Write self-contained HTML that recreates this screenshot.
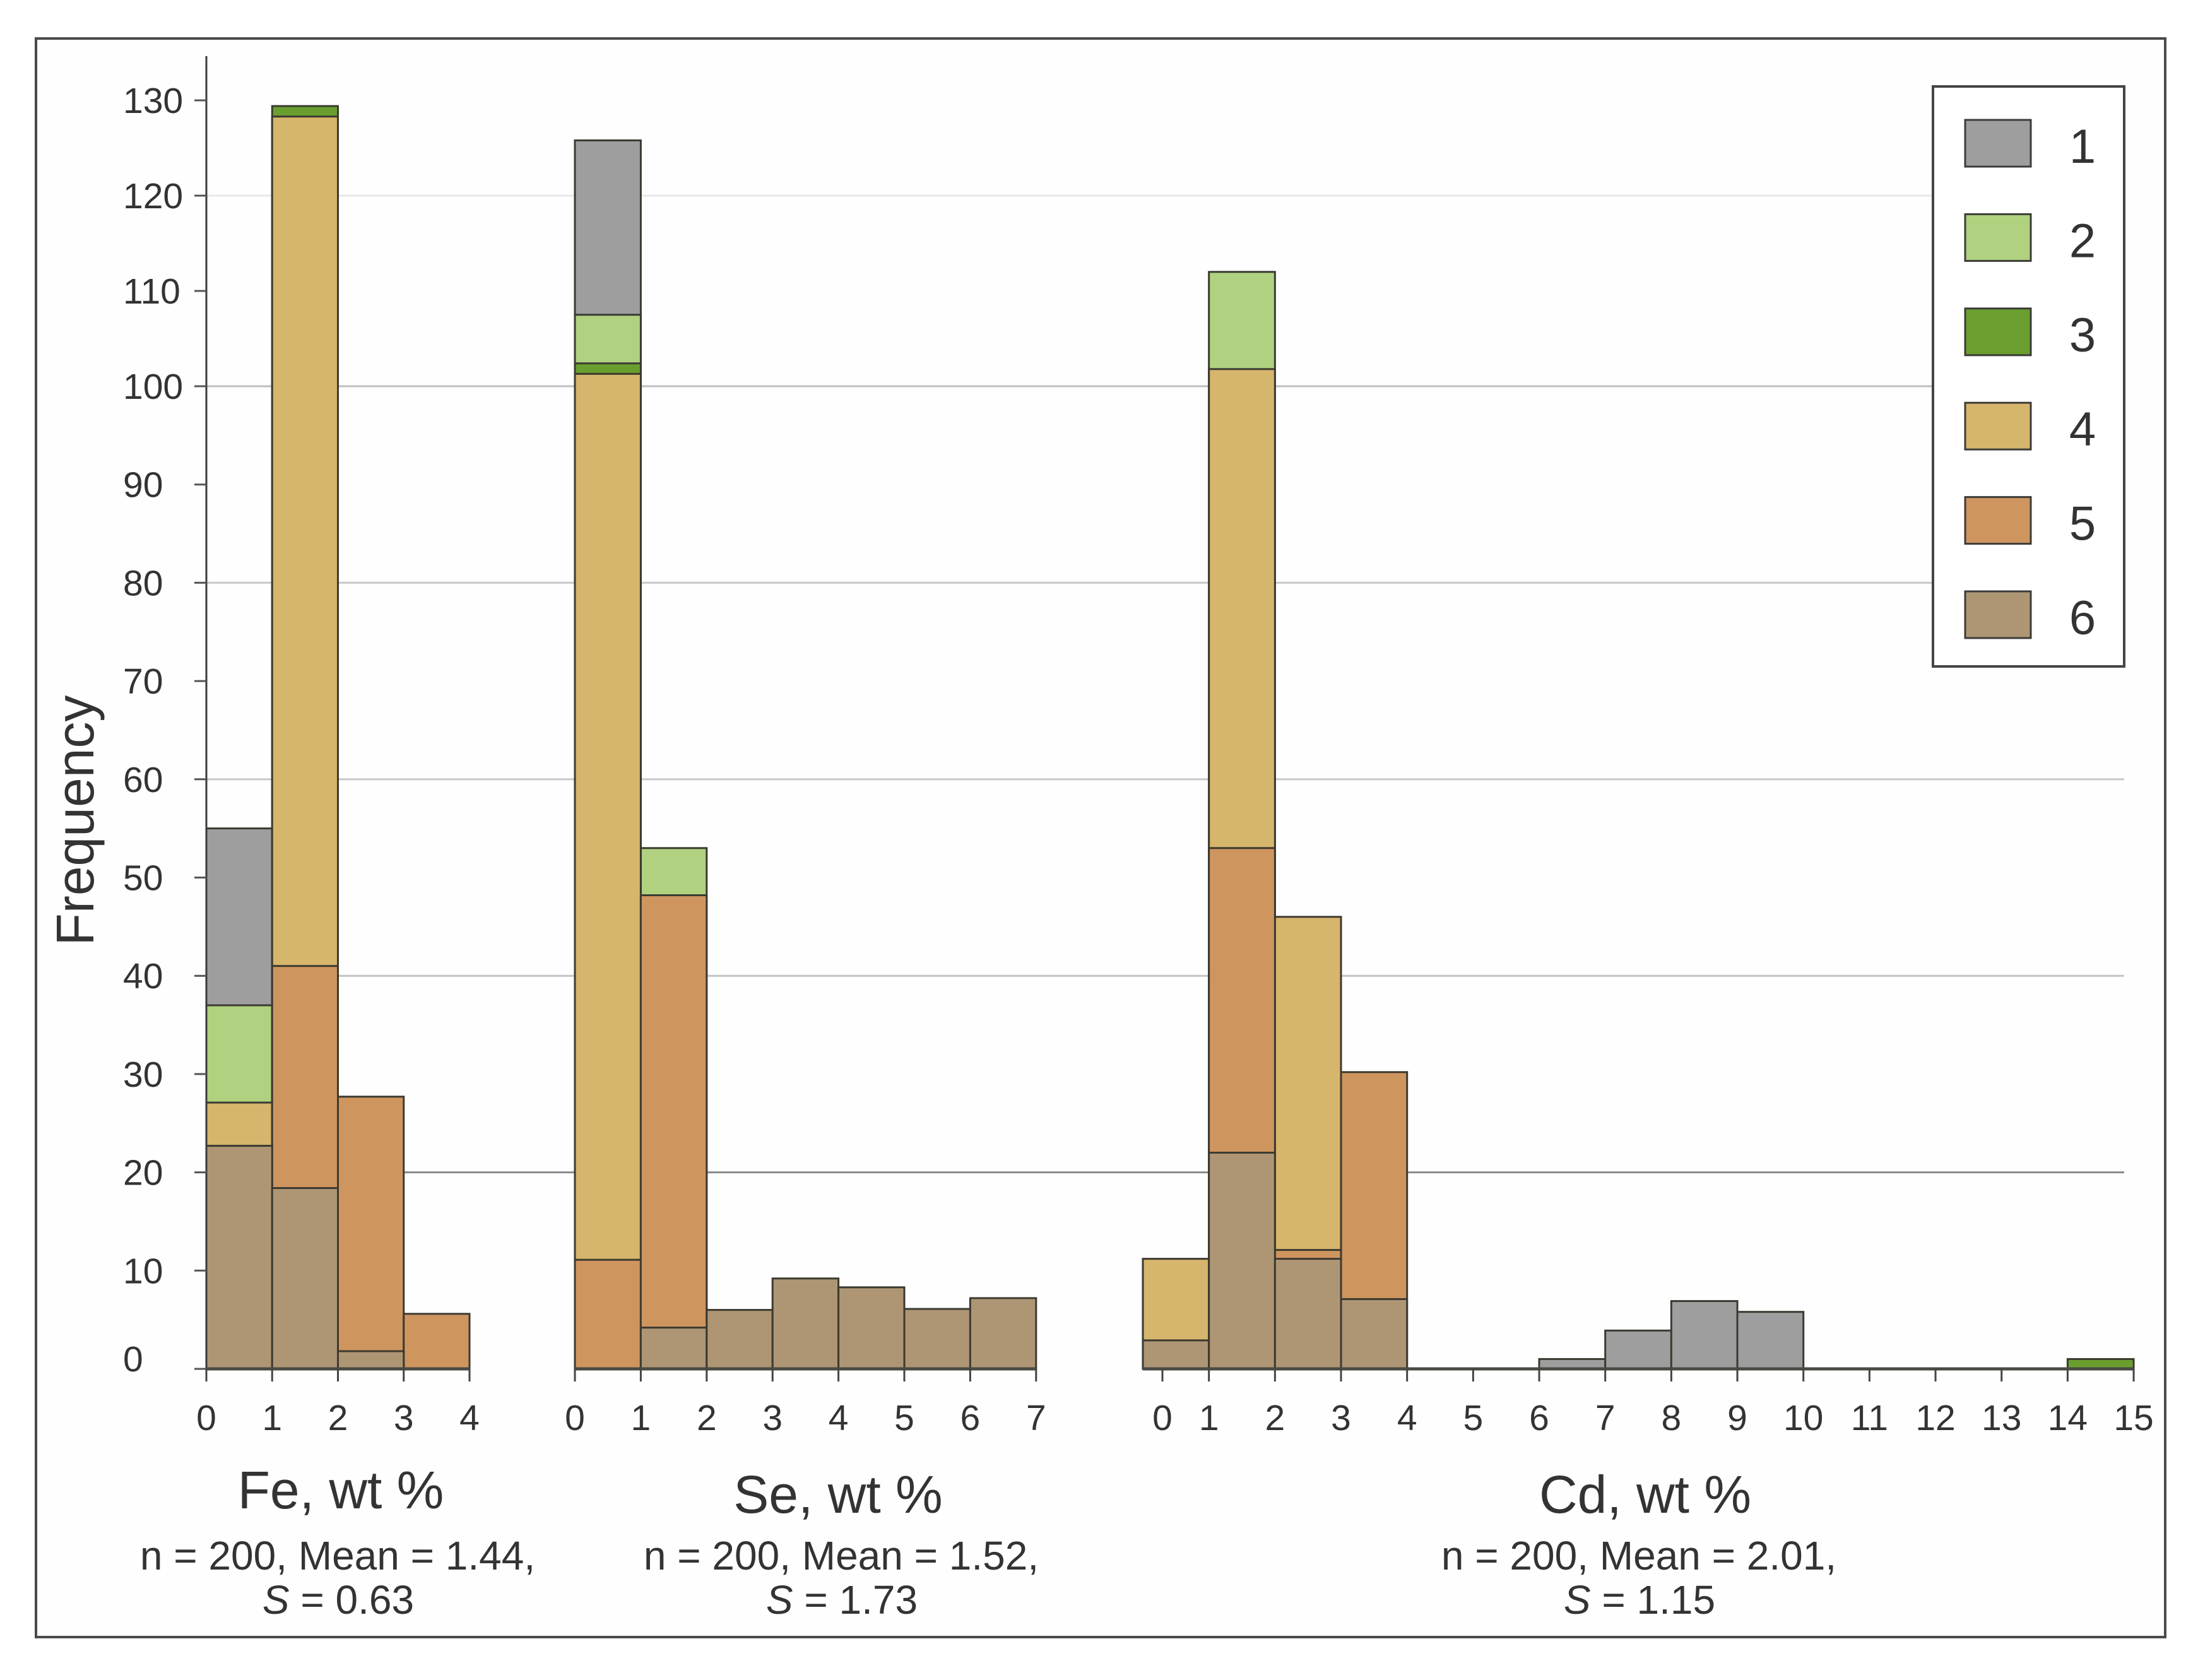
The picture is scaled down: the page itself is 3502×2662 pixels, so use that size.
<!DOCTYPE html>
<html lang="en">
<head>
<meta charset="utf-8">
<title>Frequency histograms of Fe, Se and Cd</title>
<style>
html,body{margin:0;padding:0;background:#fff;}
svg{display:block;}
text{font-family:"Liberation Sans",Arial,sans-serif;fill:#333;}
</style>
</head>
<body>
<svg id="chart" xmlns="http://www.w3.org/2000/svg" width="3502" height="2662" viewBox="0 0 3502 2662">
  <rect x="0" y="0" width="3502" height="2662" fill="#ffffff"/>
  <rect x="57" y="61" width="3374" height="2533" fill="#fefefe" stroke="#4a4a4a" stroke-width="4"/>
  <g id="grid"></g>
  <g id="bars"></g>
  <g id="axes"></g>
  <text x="0" y="0" font-size="84" text-anchor="middle" transform="translate(148,1300) rotate(-90)">Frequency</text>

  <text x="540" y="2390" font-size="84" text-anchor="middle">Fe, wt %</text>
  <text x="535" y="2487" font-size="64" text-anchor="middle">n = 200, Mean = 1.44,</text>
  <text x="536" y="2557" font-size="64" text-anchor="middle"><tspan font-style="italic">S</tspan> = 0.63</text>

  <text x="1328" y="2397" font-size="84" text-anchor="middle">Se, wt %</text>
  <text x="1333" y="2487" font-size="64" text-anchor="middle">n = 200, Mean = 1.52,</text>
  <text x="1334" y="2557" font-size="64" text-anchor="middle"><tspan font-style="italic">S</tspan> = 1.73</text>

  <text x="2607" y="2397" font-size="84" text-anchor="middle">Cd, wt %</text>
  <text x="2597" y="2487" font-size="64" text-anchor="middle">n = 200, Mean = 2.01,</text>
  <text x="2598" y="2557" font-size="64" text-anchor="middle"><tspan font-style="italic">S</tspan> = 1.15</text>

  <g id="legend"></g>
</svg>
<script>
const yTicks = [0,10,20,30,40,50,60,70,80,90,100,110,120,130];
const gridValues = [20,40,60,80,100,120];
const gridColors = ['#8a8a8a','#c4c4c4','#c8c8c8','#c8c8c8','#bdbdbd','#e8e8e8'];

const seriesNames = ['1','2','3','4','5','6'];
const seriesColors = ['#9e9e9e','#afd180','#6a9f30','#d6b56c','#cf955f','#ae9675'];

const feBinLabels = ['0','1','2','3','4'];
const fe1 = [55,0,0,0];
const fe2 = [37,0,0,0];
const fe3 = [0,129.4,0,0];
const fe4 = [27.1,128.3,0,0];
const fe5 = [0,41,27.7,5.6];
const fe6 = [22.7,18.4,1.8,0];

const seBinLabels = ['0','1','2','3','4','5','6','7'];
const se1 = [125.8,0,0,0,0,0,0];
const se2 = [107.5,53,0,0,0,0,0];
const se3 = [102.4,0,0,0,0,0,0];
const se4 = [101.3,0,0,0,0,0,0];
const se5 = [11.1,48.2,0,0,0,0,0];
const se6 = [0,4.2,6,9.2,8.3,6.1,7.2];

const cdBinLabels = ['0','1','2','3','4','5','6','7','8','9','10','11','12','13','14','15'];
const cd1 = [0,0,0,0,0,0,1,3.9,6.9,5.8,0,0,0,0,0];
const cd2 = [0,112,0,0,0,0,0,0,0,0,0,0,0,0,0];
const cd3 = [0,0,0,0,0,0,0,0,0,0,0,0,0,0,1];
const cd4 = [11.2,101.8,46,0,0,0,0,0,0,0,0,0,0,0,0];
const cd5 = [0,53,12.1,30.2,0,0,0,0,0,0,0,0,0,0,0];
const cd6 = [2.9,22,11.2,7.1,0,0,0,0,0,0,0,0,0,0,0];

const SVGNS = 'http://www.w3.org/2000/svg';
const gridLayer = document.getElementById('grid');
const barLayer = document.getElementById('bars');
const axisLayer = document.getElementById('axes');
const legendLayer = document.getElementById('legend');

function yScale(v){
  return v <= 100 ? 2169 - 15.57 * v : 612 - 15.1 * (v - 100);
}
function makeXScale(origin, unit){
  return function(v){ return origin + unit * v; };
}
function svgEl(tag, parent){
  const el = document.createElementNS(SVGNS, tag);
  parent.appendChild(el);
  return el;
}
function setLine(el, x1, y1, x2, y2, color, width){
  el.setAttribute('x1', x1);
  el.setAttribute('y1', y1);
  el.setAttribute('x2', x2);
  el.setAttribute('y2', y2);
  el.setAttribute('stroke', color);
  el.setAttribute('stroke-width', width);
}

/* gridlines */
gridValues.forEach(function(v, i){
  const ln = svgEl('line', gridLayer);
  
  
  setLine(ln, 327, yScale(v), 3366, yScale(v), gridColors[i], 3);
});

/* y axis */
const yAxisLine = svgEl('line', axisLayer);


setLine(yAxisLine, 327, 89, 327, 2169, '#3a3a3a', 3);
yTicks.forEach(function(v){
  const t = svgEl('line', axisLayer);
  
  
  setLine(t, 308, yScale(v), 327, yScale(v), '#555', 3);
  const lbl = svgEl('text', axisLayer);
  
  
  lbl.setAttribute('x', 195);
  lbl.setAttribute('y', yScale(v) + (v === 0 ? 4 : 20));
  lbl.setAttribute('font-size', 57);
  lbl.textContent = String(v);
});

/* panels */
function drawPanel(key, xs, seriesList, labels, tickX){
  seriesList.forEach(function(values, s){
    values.forEach(function(val, bin){
      if (!val) return;
      const r = svgEl('rect', barLayer);
      
      
      r.setAttribute('x', xs(bin));
      r.setAttribute('y', yScale(val));
      r.setAttribute('width', xs(bin + 1) - xs(bin));
      r.setAttribute('height', yScale(0) - yScale(val));
      r.setAttribute('fill', seriesColors[s]);
      r.setAttribute('stroke', '#3c3a30');
      r.setAttribute('stroke-width', 3);
    });
  });
  const base = svgEl('line', axisLayer);
  
  
  setLine(base, xs(0), yScale(0), xs(labels.length - 1), yScale(0), '#4a4a44', 5);
  labels.forEach(function(label, i){
    const px = tickX(i);
    const t = svgEl('line', axisLayer);
    
    
    setLine(t, px, yScale(0), px, yScale(0) + 20, '#444', 3);
    const lbl = svgEl('text', axisLayer);
    
    
    lbl.setAttribute('x', px);
    lbl.setAttribute('y', 2266);
    lbl.setAttribute('font-size', 57);
    lbl.setAttribute('text-anchor', 'middle');
    lbl.textContent = label;
  });
}

const feX = makeXScale(327, 104.25);
const seX = makeXScale(911, 104.4);
const cdX = makeXScale(1811, 104.67);

drawPanel('fe', feX, [fe1,fe2,fe3,fe4,fe5,fe6], feBinLabels, feX);
drawPanel('se', seX, [se1,se2,se3,se4,se5,se6], seBinLabels, seX);
drawPanel('cd', cdX, [cd1,cd2,cd3,cd4,cd5,cd6], cdBinLabels, function(i){
  return i === 0 ? cdX(0) + 31 : cdX(i);
});

/* legend */
const legendBox = svgEl('rect', legendLayer);


legendBox.setAttribute('x', 3063);
legendBox.setAttribute('y', 137);
legendBox.setAttribute('width', 303);
legendBox.setAttribute('height', 919);
legendBox.setAttribute('fill', '#ffffff');
legendBox.setAttribute('stroke', '#444');
legendBox.setAttribute('stroke-width', 4);

seriesNames.forEach(function(name, i){
  const rowY = 190 + i * 149.4;
  const sw = svgEl('rect', legendLayer);
  
  
  sw.setAttribute('x', 3114);
  sw.setAttribute('y', rowY);
  sw.setAttribute('width', 104);
  sw.setAttribute('height', 74);
  sw.setAttribute('fill', seriesColors[i]);
  sw.setAttribute('stroke', '#3c3c38');
  sw.setAttribute('stroke-width', 3);
  const lbl = svgEl('text', legendLayer);
  
  
  lbl.setAttribute('x', 3300);
  lbl.setAttribute('y', rowY + 68);
  lbl.setAttribute('font-size', 76);
  lbl.setAttribute('text-anchor', 'middle');
  lbl.textContent = name;
});
</script>
</body>
</html>
